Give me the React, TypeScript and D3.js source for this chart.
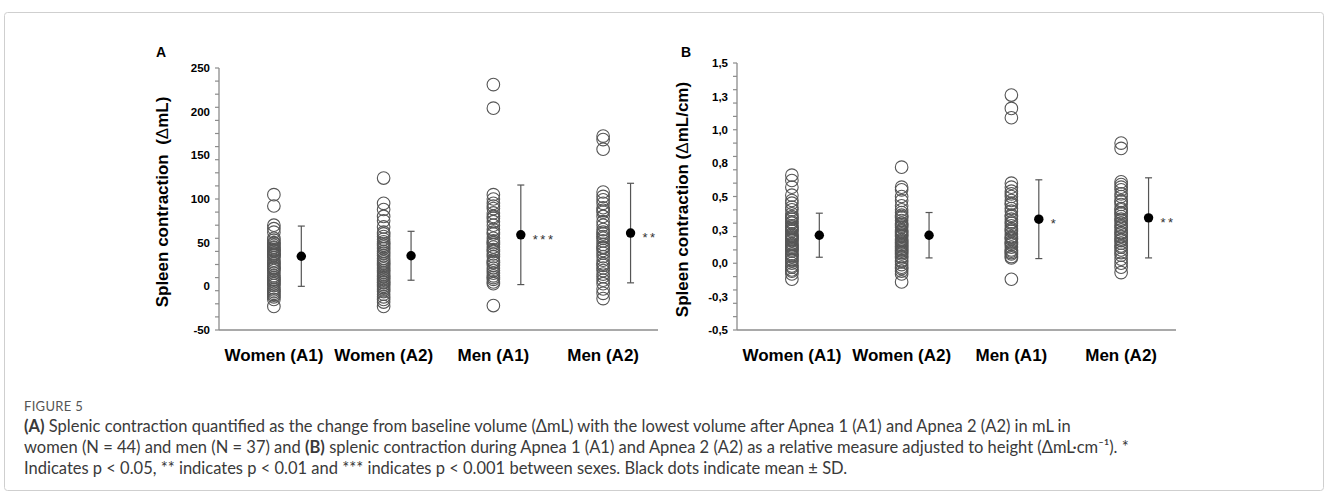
import React from 'react';
import * as d3 from 'd3';

const categories = ['Women (A1)', 'Women (A2)', 'Men (A1)', 'Men (A2)'];

// Panel A: spleen contraction (ΔmL)
const volWomenA1 = [105, 92, 70, 66, 62, 55, 53, 50, 49, 47, 45, 42, 41, 40, 38, 37, 36, 35, 33, 30, 28, 26, 24, 22, 21, 20, 18, 15, 12, 10, 8, 7, 5, 3, 1, -2, -4, -6, -8, -10, -12, -15, -23, 44];
const volWomenA2 = [124, 95, 88, 80, 75, 68, 62, 57, 54, 51, 49, 47, 45, 43, 40, 38, 35, 32, 30, 28, 26, 24, 22, 20, 18, 16, 14, 12, 11, 9, 7, 5, 4, 2, 0, -2, -4, -6, -9, -12, -15, -18, -23, 60];
const volMenA1 = [231, 204, 105, 100, 95, 89, 84, 78, 74, 70, 65, 60, 55, 52, 48, 45, 42, 40, 37, 34, 30, 27, 24, 21, 18, 15, 12, 10, 8, 5, 3, -22, 50, 62, 80, 92, 28];
const volMenA2 = [172, 168, 157, 108, 103, 99, 95, 90, 87, 80, 74, 70, 65, 60, 57, 52, 48, 45, 41, 38, 34, 30, 26, 21, 18, 14, 11, 7, 3, -3, -8, -14, 62, 55, 44, 85, 24];
const volMean = [34.5, 35, 59, 61];
const volSD = [34.5, 28, 57, 57];
const volSig = ['', '', '***', '**'];
const volTickLabels = [250, 200, 150, 100, 50, 0, -50];

// Panel B: spleen contraction (ΔmL/cm)
const relWomenA1 = [0.66, 0.62, 0.57, 0.51, 0.47, 0.45, 0.42, 0.40, 0.37, 0.35, 0.33, 0.31, 0.30, 0.28, 0.27, 0.25, 0.24, 0.22, 0.21, 0.20, 0.18, 0.17, 0.15, 0.14, 0.12, 0.11, 0.10, 0.09, 0.07, 0.06, 0.05, 0.03, 0.02, 0.00, -0.02, -0.03, -0.05, -0.06, -0.08, -0.12, 0.34, 0.26, 0.19, 0.13];
const relWomenA2 = [0.72, 0.57, 0.55, 0.50, 0.47, 0.43, 0.40, 0.38, 0.36, 0.34, 0.32, 0.30, 0.28, 0.27, 0.25, 0.24, 0.22, 0.21, 0.20, 0.18, 0.17, 0.16, 0.14, 0.13, 0.12, 0.10, 0.09, 0.08, 0.07, 0.05, 0.04, 0.02, 0.01, -0.01, -0.03, -0.04, -0.06, -0.08, -0.14, 0.35, 0.29, 0.23, 0.15, 0.11];
const relMenA1 = [1.26, 1.16, 1.09, 0.60, 0.57, 0.54, 0.50, 0.47, 0.44, 0.41, 0.39, 0.36, 0.33, 0.30, 0.28, 0.26, 0.24, 0.22, 0.20, 0.18, 0.16, 0.14, 0.12, 0.10, 0.08, 0.07, 0.05, 0.04, -0.12, 0.31, 0.35, 0.45, 0.52, 0.25, 0.19, 0.15, 0.09];
const relMenA2 = [0.90, 0.86, 0.61, 0.59, 0.57, 0.55, 0.52, 0.50, 0.47, 0.44, 0.41, 0.38, 0.35, 0.32, 0.30, 0.27, 0.25, 0.22, 0.20, 0.18, 0.15, 0.12, 0.10, 0.08, 0.06, 0.03, 0.00, -0.03, -0.07, 0.33, 0.28, 0.23, 0.17, 0.40, 0.46, 0.13, 0.37];
const relMean = [0.21, 0.21, 0.33, 0.34];
const relSD = [0.165, 0.17, 0.295, 0.30];
const relSig = ['', '', '*', '**'];
const relTickLabels = [1.5, 1.25, 1.0, 0.75, 0.5, 0.25, 0, -0.25, -0.5];

const AX = '#8c8c8c';
const MARK = '#555555';
const FONT = 'Arial, "Liberation Sans", Helvetica, sans-serif';

type PanelProps = {
  letter: string;
  letterX: number;
  xLeft: number;
  xRight: number;
  yTop: number;
  yBottom: number;
  domain: [number, number];
  minorTicks: number[];
  tickLabels: number[];
  fmt: (v: number) => string;
  labelX: number;
  series: number[][];
  means: number[];
  sds: number[];
  sig: string[];
  titleX: number;
  titleMain: string;
  titleUnitPost: string;
};

function Panel(p: PanelProps) {
  const y = d3.scaleLinear().domain(p.domain).range([p.yBottom, p.yTop]);
  const x = d3.scaleBand<string>().domain(categories).range([p.xLeft, p.xRight]);
  const bw = x.bandwidth();
  const titleY = (p.yTop + p.yBottom) / 2 + 3;
  return (
    <g>
      <text x={p.letterX} y={57} fontFamily={FONT} fontWeight="bold" fontSize={14} textAnchor="middle" fill="#000">{p.letter}</text>
      <line x1={p.xLeft} x2={p.xLeft} y1={p.yTop} y2={p.yBottom} stroke={AX} strokeWidth={1.3} />
      <line x1={p.xLeft} x2={p.xRight} y1={p.yBottom} y2={p.yBottom} stroke={AX} strokeWidth={1.3} />
      {p.minorTicks.map((t, i) => (
        <line key={'mt' + i} x1={p.xLeft - 4} x2={p.xLeft} y1={y(t)} y2={y(t)} stroke={AX} strokeWidth={1.2} />
      ))}
      {p.tickLabels.map((t, i) => (
        <text key={'tl' + i} x={p.labelX} y={y(t)} dy="0.36em" textAnchor="end" fontFamily={FONT} fontWeight="bold" fontSize={11.5} fill="#000">{p.fmt(t)}</text>
      ))}
      {categories.map((c) => (
        <text key={'cl' + c} x={(x(c) as number) + bw / 2} y={361} textAnchor="middle" fontFamily={FONT} fontWeight="bold" fontSize={17} fill="#000">{c}</text>
      ))}
      <text transform={`translate(${p.titleX},${titleY}) rotate(-90)`} textAnchor="middle" fontFamily={FONT} fontWeight="bold" fontSize={17} fill="#000" style={{ whiteSpace: 'pre' }}>
        {p.titleMain}
        <tspan fontWeight="normal">Δ</tspan>
        {p.titleUnitPost}
      </text>
      {categories.map((c, ci) => {
        const cx = (x(c) as number) + bw / 2;
        return (
          <g key={'s' + c}>
            {p.series[ci].map((v, i) => (
              <circle key={i} cx={cx} cy={y(v)} r={6.3} fill="none" stroke={MARK} strokeWidth={1.1} />
            ))}
          </g>
        );
      })}
      {categories.map((c, ci) => {
        const mx = (x(c) as number) + bw * 0.75;
        const m = p.means[ci];
        const s = p.sds[ci];
        return (
          <g key={'m' + c}>
            <line x1={mx} x2={mx} y1={y(m + s)} y2={y(m - s)} stroke={MARK} strokeWidth={1.2} />
            <line x1={mx - 3.5} x2={mx + 3.5} y1={y(m + s)} y2={y(m + s)} stroke={MARK} strokeWidth={1.2} />
            <line x1={mx - 3.5} x2={mx + 3.5} y1={y(m - s)} y2={y(m - s)} stroke={MARK} strokeWidth={1.2} />
            <circle cx={mx} cy={y(m)} r={4.7} fill="#000" />
            {p.sig[ci] && (
              <text x={mx + 12} y={y(m) + 9} fontFamily={FONT} fontSize={13} letterSpacing={2.5} fill="#333">{p.sig[ci]}</text>
            )}
          </g>
        );
      })}
    </g>
  );
}

const fmtVol = (v: number) => String(v);
const fmtRel = (v: number) => v.toFixed(1).replace('.', ',');

export default function App() {
  const capFont = 'Lato, "Open Sans", "Noto Sans", sans-serif';
  const capColor = '#3a3a3a';
  return (
    <svg width={1328} height={496} style={{ position: 'absolute', left: 0, top: 0, background: '#fff' }}>
      <rect x={0} y={0} width={1328} height={496} fill="#fff" />
      <rect x={4.5} y={12.5} width={1319} height={478} rx={3} fill="none" stroke="#cfcfcf" strokeWidth={1} />
      <Panel
        letter="A" letterX={161}
        xLeft={219} xRight={658} yTop={68} yBottom={330}
        domain={[-50, 250]}
        minorTicks={d3.range(-50, 251, 15)}
        tickLabels={volTickLabels}
        fmt={fmtVol}
        labelX={210}
        series={[volWomenA1, volWomenA2, volMenA1, volMenA2]}
        means={volMean} sds={volSD} sig={volSig}
        titleX={168}
        titleMain="Spleen contraction  ("
        titleUnitPost="mL)"
      />
      <Panel
        letter="B" letterX={686}
        xLeft={737} xRight={1176} yTop={63} yBottom={330}
        domain={[-0.5, 1.5]}
        minorTicks={d3.range(0, 21).map((i) => -0.5 + i * 0.1)}
        tickLabels={relTickLabels}
        fmt={fmtRel}
        labelX={728}
        series={[relWomenA1, relWomenA2, relMenA1, relMenA2]}
        means={relMean} sds={relSD} sig={relSig}
        titleX={688}
        titleMain="Spleen contraction ("
        titleUnitPost="mL/cm)"
      />
      <text x={24} y={411} fontFamily={capFont} fontSize={13} fill="#555" letterSpacing={0.3}>FIGURE 5</text>
      <text x={24} y={432} fontFamily={capFont} fontSize={16.5} fill={capColor}>
        <tspan fontWeight="bold">(A)</tspan> Splenic contraction quantified as the change from baseline volume (ΔmL) with the lowest volume after Apnea 1 (A1) and Apnea 2 (A2) in mL in
      </text>
      <text x={24} y={453} fontFamily={capFont} fontSize={16.5} fill={capColor}>
        women (N = 44) and men (N = 37) and <tspan fontWeight="bold">(B)</tspan> splenic contraction during Apnea 1 (A1) and Apnea 2 (A2) as a relative measure adjusted to height (ΔmL·cm⁻¹). *
      </text>
      <text x={24} y={474} fontFamily={capFont} fontSize={16.5} fill={capColor}>
        Indicates p &lt; 0.05, ** indicates p &lt; 0.01 and *** indicates p &lt; 0.001 between sexes. Black dots indicate mean ± SD.
      </text>
    </svg>
  );
}
